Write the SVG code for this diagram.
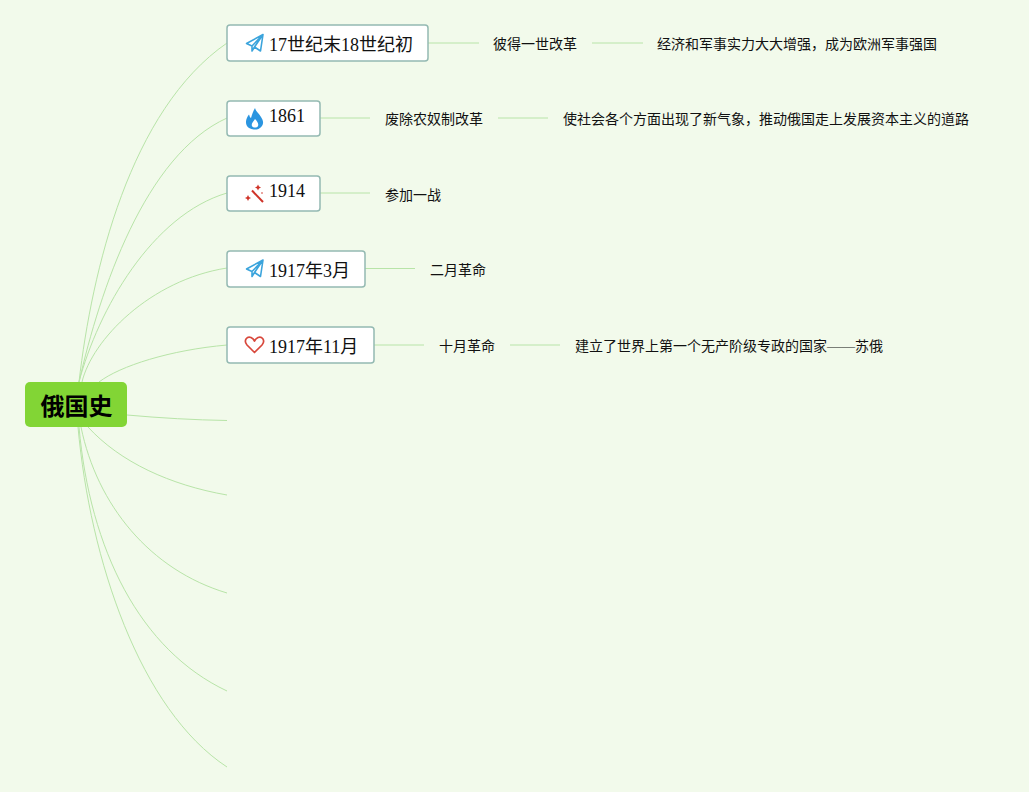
<svg xmlns="http://www.w3.org/2000/svg" width="1029" height="792" viewBox="0 0 1029 792">
<defs>
<path id="plane" d="M-8.500,0 L8,-9 L5.500,7.500 L-0.500,3.500 L-3,7.500 L-3,2.500 Z M-3,2.500 L8,-9 M-0.500,3.500 L8,-9" fill="none" stroke="#3ba4dc" stroke-width="1.600" stroke-linejoin="round"/>
</defs>
<style>
.l{fill:none;stroke:#b8e4a8;stroke-width:1}
.box{fill:#fff;stroke:#94b9b2;stroke-width:1.500}
.t1{font-family:"Liberation Serif","Noto Sans CJK SC",serif;font-size:18px;fill:#111}
.t2{font-family:"Liberation Serif","Noto Sans CJK SC",serif;font-size:14px;fill:#111}
.root{font-family:"Noto Sans CJK SC","Liberation Sans",sans-serif;font-size:24px;font-weight:700;fill:#000}
</style>
<rect width="1029" height="792" fill="#f2faeb"/>
<g id="connectors">
<path class="l" d="M79,382 C92,270 130,110 227,43"/>
<path class="l" d="M79,382 C100,290 145,155 227,118"/>
<path class="l" d="M79,382 C98,310 152,215 227,193"/>
<path class="l" d="M82,382 C92,340 150,280 227,268"/>
<path class="l" d="M99,382 C120,366 170,350 227,345"/>
<path class="l" d="M127,415 C160,418 195,420 227,420.500"/>
<path class="l" d="M88,427 C120,462 170,485 227,495"/>
<path class="l" d="M81,427 C97,505 150,570 227,593"/>
<path class="l" d="M79,427 C90,550 140,650 227,691"/>
<path class="l" d="M78,427 C90,560 140,710 227,767"/>
<path class="l" d="M428,43 H479"/><path class="l" d="M592,43 H643"/>
<path class="l" d="M320,118 H370"/><path class="l" d="M498,118 H548"/>
<path class="l" d="M320,193 H370"/>
<path class="l" d="M365,268.500 H415"/>
<path class="l" d="M374,345 H424"/><path class="l" d="M510,345 H560"/>
</g>
<g id="root"><rect x="25" y="382" width="102" height="45" rx="5" fill="#82d535"/><text class="root" x="76.500" y="415" text-anchor="middle">俄国史</text></g>
<g id="n1"><rect class="box" x="227" y="25" width="201" height="36" rx="3"/><use href="#plane" x="255" y="43.500"/><text class="t1" x="269" y="51">17世纪末18世纪初</text></g>
<g id="n1a"><text class="t2" x="493" y="49">彼得一世改革</text></g>
<g id="n1b"><text class="t2" x="657" y="49">经济和军事实力大大增强，成为欧洲军事强国</text></g>
<g id="n2"><rect class="box" x="227" y="101" width="93" height="35" rx="3"/><path fill-rule="evenodd" d="M255,108 C256,112 259,113 261,117 C263,120 264,123 262,126 C260,129 257,129.500 255,129.500 C252,129.500 248,128.500 246.500,125 C245,121 247,117 249,114.500 C249.500,116 250,117.500 251,118 C252,115 253,111 255,108 Z M255,119 C253,122 251,124 252,126 C253,128 257,128 258,126 C259,124 257,121 255,119 Z" fill="#2b95e0"/><text class="t1" x="269" y="122">1861</text></g>
<g id="n2a"><text class="t2" x="385" y="124">废除农奴制改革</text></g>
<g id="n2b"><text class="t2" x="563" y="124">使社会各个方面出现了新气象，推动俄国走上发展资本主义的道路</text></g>
<g id="n3"><rect class="box" x="227" y="176" width="93" height="35" rx="3"/><path d="M252,190.500 L263,202" fill="none" stroke="#cf3328" stroke-width="2"/><path d="M258,184.500 l1,2 2,1 -2,1 -1,2 -1,-2 -2,-1 2,-1 z M248,195 l1,2 2,1 -2,1 -1,2 -1,-2 -2,-1 2,-1 z" fill="#cf3328"/><circle cx="262" cy="193" r="0.800" fill="#cf3328"/><text class="t1" x="269" y="197">1914</text></g>
<g id="n3a"><text class="t2" x="385" y="200">参加一战</text></g>
<g id="n4"><rect class="box" x="227" y="251" width="138" height="36" rx="3"/><use href="#plane" x="255" y="269"/><text class="t1" x="269" y="277">1917年3月</text></g>
<g id="n4a"><text class="t2" x="430" y="275">二月革命</text></g>
<g id="n5"><rect class="box" x="227" y="327" width="147" height="36" rx="3"/><path d="M254.500,352.500 L247,345 C243,340 247.500,336 251,337.500 C253,338.500 254,340 254.500,341 C255,340 256,338.500 258,337.500 C261.500,336 266,340 262,345 Z" fill="none" stroke="#d8483c" stroke-width="1.700" stroke-linejoin="round"/><text class="t1" x="269" y="353">1917年11月</text></g>
<g id="n5a"><text class="t2" x="439" y="351">十月革命</text></g>
<g id="n5b"><text class="t2" x="575" y="351">建立了世界上第一个无产阶级专政的国家——苏俄</text></g>
</svg>
